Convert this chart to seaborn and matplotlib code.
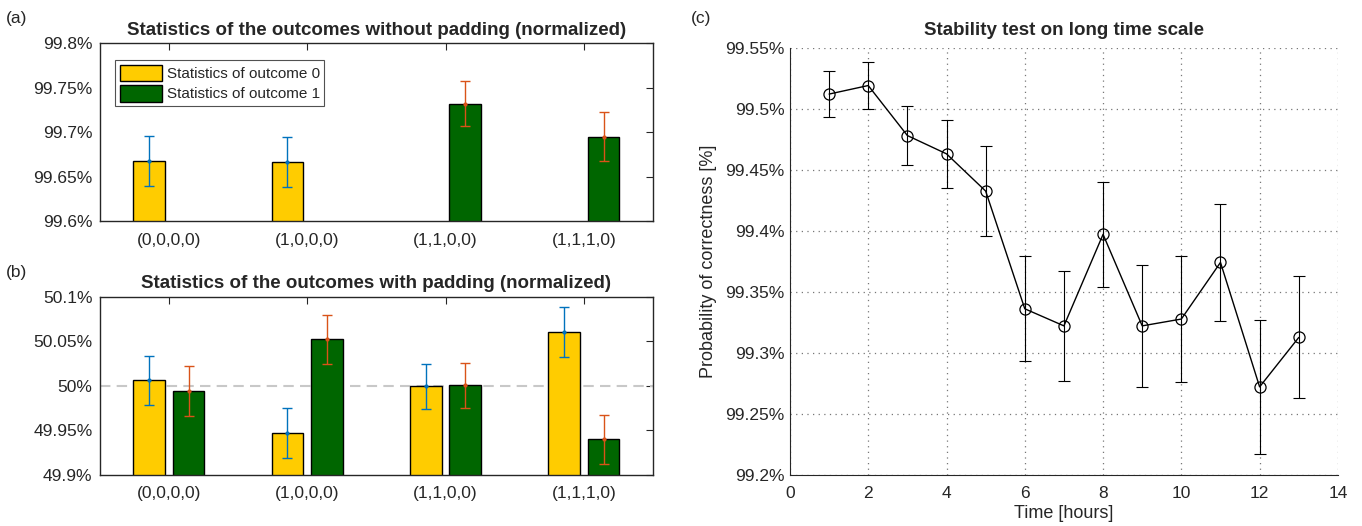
import numpy as np
import pandas as pd
import seaborn as sns
import matplotlib.pyplot as plt
from matplotlib.ticker import FuncFormatter, MultipleLocator, AutoMinorLocator

# data
states = ['(0,0,0,0)', '(1,0,0,0)', '(1,1,0,0)', '(1,1,1,0)']
series = ['Statistics of outcome 0', 'Statistics of outcome 1']

a_out0 = [99.668, 99.667, np.nan, np.nan]
a_err0 = [0.028, 0.028, np.nan, np.nan]
a_out1 = [np.nan, np.nan, 99.732, 99.695]
a_err1 = [np.nan, np.nan, 0.025, 0.0275]

b_out0 = [50.006, 49.947, 49.9995, 50.060]
b_err0 = [0.028, 0.028, 0.025, 0.028]
b_out1 = [49.994, 50.052, 50.0005, 49.940]
b_err1 = [0.028, 0.028, 0.025, 0.0275]

hours = [1, 2, 3, 4, 5, 6, 7, 8, 9, 10, 11, 12, 13]
prob = [99.512, 99.519, 99.478, 99.463, 99.4325, 99.336, 99.322,
        99.397, 99.322, 99.3276, 99.374, 99.272, 99.3125]
prob_err = [0.019, 0.019, 0.024, 0.028, 0.037, 0.043, 0.045,
            0.043, 0.05, 0.052, 0.048, 0.055, 0.05]

bar_colors = {series[0]: '#FFCC00', series[1]: '#006600'}
err_colors = {series[0]: '#0072BD', series[1]: '#D95319'}
axis_col = '#262626'

sns.set_style('white')
plt.rcParams['font.family'] = ['Liberation Sans', 'DejaVu Sans']
plt.rcParams['axes.edgecolor'] = axis_col
plt.rcParams['xtick.color'] = axis_col
plt.rcParams['ytick.color'] = axis_col

pct = FuncFormatter(lambda v, p: '{:g}%'.format(round(v, 4)))


def long_table(out0, out1):
    df = pd.DataFrame({'state': states * 2,
                       'series': [series[0]] * 4 + [series[1]] * 4,
                       'value': list(out0) + list(out1)})
    return df.dropna()


def bar_panel(ax, out0, out1, err0, err1, ylim, title):
    sns.barplot(data=long_table(out0, out1), x='state', y='value', hue='series',
                order=states, hue_order=series, palette=bar_colors, saturation=1,
                dodge=True, width=0.5714, gap=0.2, edgecolor='black', linewidth=1,
                errorbar=None, legend=True, ax=ax, zorder=2)
    errs = {series[0]: err0, series[1]: err1}
    for cont, name in zip(ax.containers, series):
        xs, ys, es = [], [], []
        for bar in cont:
            xc = bar.get_x() + bar.get_width() / 2
            xs.append(xc)
            ys.append(bar.get_height())
            es.append(errs[name][int(round(xc))])
        ax.errorbar(xs, ys, yerr=es, fmt='.', color=err_colors[name], ms=4,
                    elinewidth=1, capsize=3.5, capthick=1, zorder=3)
    ax.set_xlim(-0.5, 3.5)
    ax.set_ylim(*ylim)
    ax.yaxis.set_major_locator(MultipleLocator(0.05))
    ax.yaxis.set_major_formatter(pct)
    ax.set_xlabel('')
    ax.set_ylabel('')
    ax.set_title(title, fontsize=13.5, fontweight='bold', pad=6)
    ax.tick_params(direction='in', top=True, right=True, length=5,
                   labelsize=12.5, width=0.8)
    ax.tick_params(axis='x', pad=8)
    ax.tick_params(axis='y', pad=5)
    for s in ax.spines.values():
        s.set_linewidth(1)
        s.set_color(axis_col)


fig = plt.figure(figsize=(13.62, 5.26), dpi=100)
ax_a = fig.add_axes([0.0731, 0.5789, 0.4064, 0.3394])
ax_b = fig.add_axes([0.0731, 0.0970, 0.4064, 0.3389])
ax_c = fig.add_axes([0.5800, 0.0975, 0.4023, 0.8118])

bar_panel(ax_a, a_out0, a_out1, a_err0, a_err1, (99.6, 99.8),
          'Statistics of the outcomes without padding (normalized)')
leg = ax_a.legend(loc='upper left', bbox_to_anchor=(0.028, 0.905), fontsize=11,
                  frameon=True, fancybox=False, edgecolor=axis_col,
                  handlelength=2.75, handleheight=1.3, borderpad=0.3,
                  labelspacing=0.25, handletextpad=0.33, borderaxespad=0)
leg.get_frame().set_linewidth(0.8)

bar_panel(ax_b, b_out0, b_out1, b_err0, b_err1, (49.9, 50.1),
          'Statistics of the outcomes with padding (normalized)')
ax_b.legend_.remove()
ax_b.axhline(50, color='#C8C8C8', linestyle=(0, (5, 3)), linewidth=1.5, zorder=1)

# stability test
sns.lineplot(x=hours, y=prob, ax=ax_c, color='black', linewidth=1, marker='o',
             markersize=8, markerfacecolor='none', markeredgecolor='black',
             markeredgewidth=0.9, zorder=3)
ax_c.errorbar(hours, prob, yerr=prob_err, fmt='none', ecolor='black',
              elinewidth=0.8, capsize=4, capthick=0.8, zorder=2)
ax_c.set_xlim(0, 14)
ax_c.set_ylim(99.2, 99.55)
ax_c.xaxis.set_major_locator(MultipleLocator(2))
ax_c.yaxis.set_major_locator(MultipleLocator(0.05))
ax_c.xaxis.set_minor_locator(AutoMinorLocator(10))
ax_c.yaxis.set_minor_locator(AutoMinorLocator(8))
ax_c.yaxis.set_major_formatter(pct)
ax_c.grid(True, which='major', linestyle=(0, (1, 3.5)), color='#777777',
          linewidth=0.9)
ax_c.set_axisbelow(True)
ax_c.spines['top'].set_visible(False)
ax_c.spines['right'].set_visible(False)
ax_c.tick_params(which='major', direction='in', length=5, labelsize=12.5, width=0.8)
ax_c.tick_params(which='minor', direction='in', length=2.5, width=0.6)
ax_c.tick_params(axis='x', pad=8)
ax_c.tick_params(axis='y', pad=4)
ax_c.set_title('Stability test on long time scale', fontsize=13.5,
               fontweight='bold', pad=9)
ax_c.set_xlabel('Time [hours]', fontsize=13, color=axis_col, labelpad=3)
ax_c.set_ylabel('Probability of correctness [%]', fontsize=13, color=axis_col,
                labelpad=6)

fig.text(0.004, 0.965, '(a)', fontsize=12.5, color=axis_col, va='center')
fig.text(0.004, 0.482, '(b)', fontsize=12.5, color=axis_col, va='center')
fig.text(0.507, 0.965, '(c)', fontsize=12.5, color=axis_col, va='center')

fig.savefig('out.png', dpi=100)
